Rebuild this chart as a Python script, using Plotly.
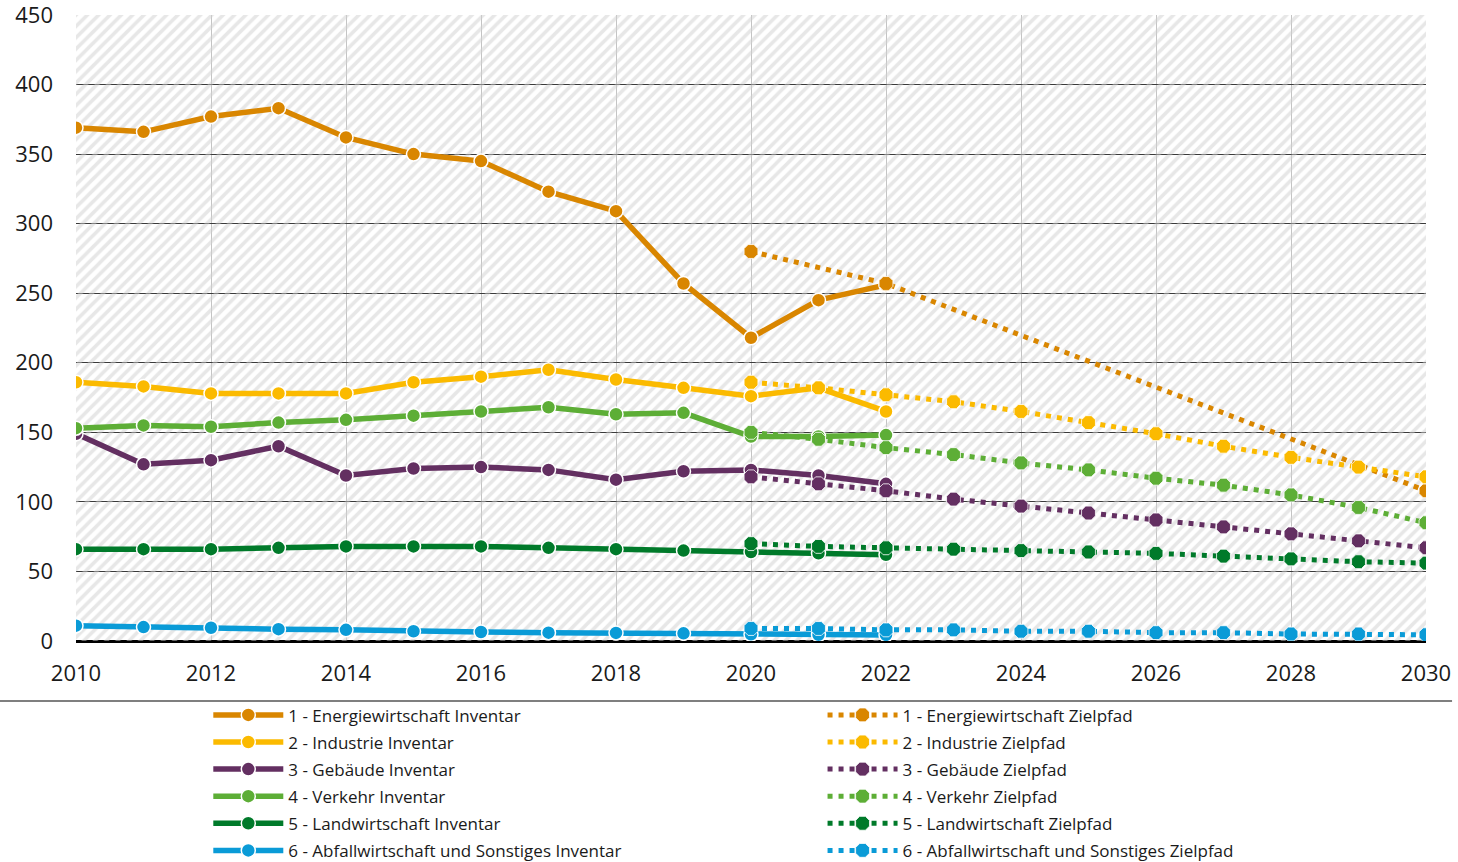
import plotly.graph_objects as go

years_inv = list(range(2010, 2023))
years_ziel = list(range(2020, 2031))
years_ziel_energie = [2020, 2022, 2030]

energie_inv = [369, 366, 377, 383, 362, 350, 345, 323, 309, 257, 218, 245, 256]
industrie_inv = [186, 183, 178, 178, 178, 186, 190, 195, 188, 182, 176, 182, 165]
gebaeude_inv = [149, 127, 130, 140, 119, 124, 125, 123, 116, 122, 123, 119, 113]
verkehr_inv = [153, 155, 154, 157, 159, 162, 165, 168, 163, 164, 147, 147, 148]
landwirt_inv = [66, 66, 66, 67, 68, 68, 68, 67, 66, 65, 64, 63, 62]
abfall_inv = [11, 10, 9.5, 8.5, 8, 7, 6.5, 6, 5.8, 5.5, 4.8, 4.5, 4.4]

energie_ziel = [280, 257, 108]
industrie_ziel = [186, 182, 177, 172, 165, 157, 149, 140, 132, 125, 118]
gebaeude_ziel = [118, 113, 108, 102, 97, 92, 87, 82, 77, 72, 67]
verkehr_ziel = [150, 145, 139, 134, 128, 123, 117, 112, 105, 96, 85]
landwirt_ziel = [70, 68, 67, 66, 65, 64, 63, 61, 59, 57, 56]
abfall_ziel = [9, 9, 8, 8, 7, 7, 6, 6, 5, 5, 4.5]

names = ["1 - Energiewirtschaft", "2 - Industrie", "3 - Gebäude", "4 - Verkehr",
         "5 - Landwirtschaft", "6 - Abfallwirtschaft und Sonstiges"]
colors = ["#D98600", "#FBBA00", "#632F61", "#5DAE36", "#007A2A", "#0A9BD7"]
inv = [energie_inv, industrie_inv, gebaeude_inv, verkehr_inv, landwirt_inv, abfall_inv]
ziel = [energie_ziel, industrie_ziel, gebaeude_ziel, verkehr_ziel, landwirt_ziel, abfall_ziel]
ziel_x = [years_ziel_energie] + [years_ziel] * 5

x_range = [2010, 2030]
y_range = [0, 450]

FONT = "Open Sans"
fig = go.Figure()

# hatched background
fig.add_trace(go.Scatter(
    x=[x_range[0], x_range[1], x_range[1], x_range[0], x_range[0]],
    y=[y_range[0], y_range[0], y_range[1], y_range[1], y_range[0]],
    mode="lines", line=dict(width=0), fill="toself",
    fillcolor="rgba(0,0,0,0)",
    fillpattern=dict(shape="/", fgcolor="#d0d0d0", bgcolor="rgba(0,0,0,0)",
                     size=8, solidity=0.45),
    showlegend=False, hoverinfo="skip"))

for i in range(6):
    fig.add_trace(go.Scatter(
        x=years_inv, y=inv[i], mode="lines+markers",
        name=names[i] + " Inventar", legend="legend", legendgroup=f"inv{i}",
        line=dict(color=colors[i], width=5.5),
        marker=dict(symbol="circle", size=14, color=colors[i],
                    line=dict(color="white", width=1.5))))

for i in range(6):
    fig.add_trace(go.Scatter(
        x=ziel_x[i], y=ziel[i], mode="lines+markers",
        name=names[i] + " Zielpfad", legend="legend2", legendgroup=f"ziel{i}",
        line=dict(color=colors[i], width=5, dash="5px,6px"),
        marker=dict(symbol="octagon", size=15, color=colors[i],
                    line=dict(color="white", width=0.8))))

fig.add_shape(type="line", xref="paper", yref="paper",
              x0=-0.0563, x1=1.0193, y0=-0.0958, y1=-0.0958,
              line=dict(color="#555555", width=1.5))

fig.update_layout(
    width=1458, height=862,
    margin=dict(l=76, r=32, t=15, b=221, autoexpand=False),
    paper_bgcolor="white", plot_bgcolor="white",
    font=dict(family=FONT, color="#1a1a1a"),
    xaxis=dict(range=x_range, dtick=2, tick0=2010, showgrid=True,
               gridcolor="#c4c4c4", gridwidth=1, zeroline=False,
               ticks="", showline=False, ticklabelstandoff=17,
               ticklabeloverflow="allow",
               tickfont=dict(size=22, family=FONT, color="#1a1a1a")),
    yaxis=dict(range=y_range, dtick=50, showgrid=True, gridcolor="#3a3a3a",
               gridwidth=1, zeroline=True, zerolinecolor="#000000",
               zerolinewidth=3, ticks="", showline=False,
               ticklabelstandoff=22, ticklabeloverflow="allow",
               tickfont=dict(size=22, family=FONT, color="#1a1a1a")),
    legend=dict(x=0.098, y=-0.090, xanchor="left", yanchor="top",
                orientation="v", itemwidth=70, tracegroupgap=2,
                font=dict(size=17, family=FONT, color="#1a1a1a"),
                bgcolor="rgba(0,0,0,0)"),
    legend2=dict(x=0.553, y=-0.090, xanchor="left", yanchor="top",
                 orientation="v", itemwidth=70, tracegroupgap=2,
                 font=dict(size=17, family=FONT, color="#1a1a1a"),
                 bgcolor="rgba(0,0,0,0)"),
)

fig.write_html("out.html", config={"displayModeBar": False},
               post_script="document.body.style.margin='0px';")
